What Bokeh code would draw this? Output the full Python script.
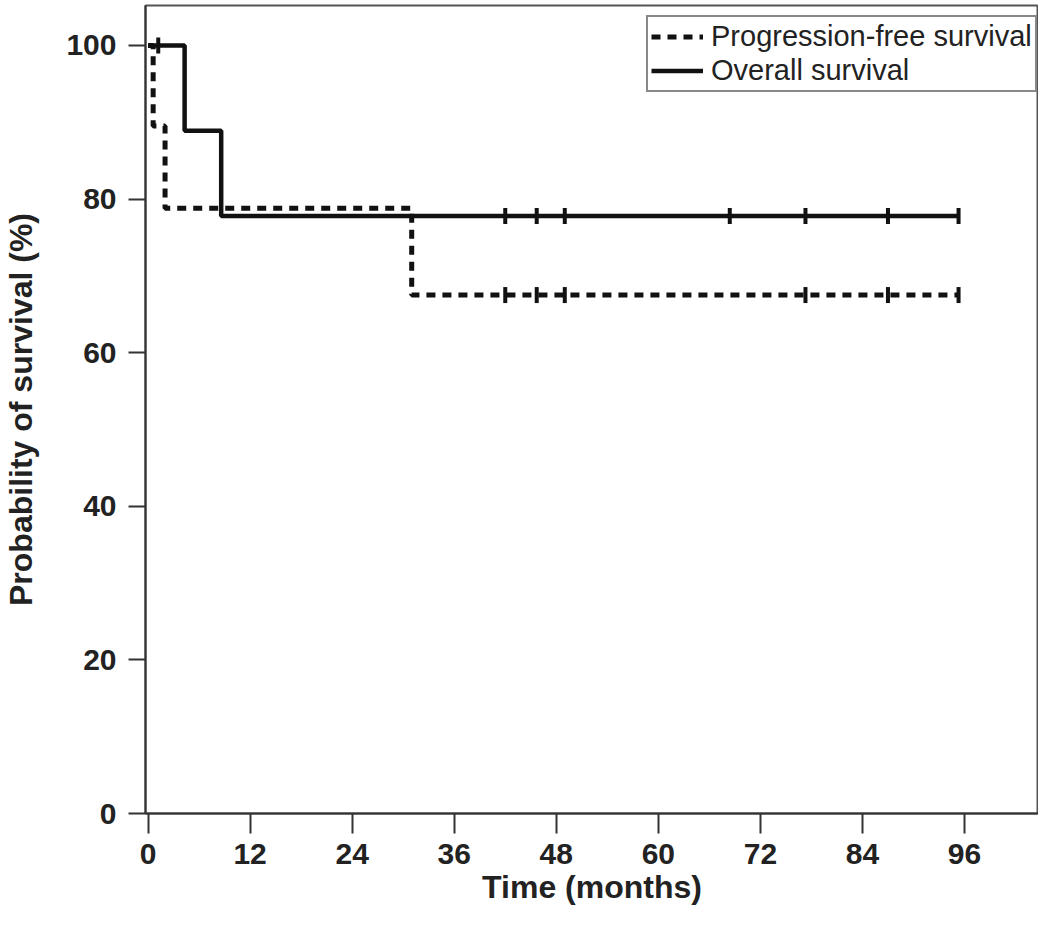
import math
from bokeh.plotting import figure
from bokeh.models import Range1d, FixedTicker, Legend, LegendItem
from bokeh.embed import file_html
from bokeh.resources import INLINE

# Kaplan-Meier step data (months, %)
os_times = [0, 4.3, 8.6, 95.3]
os_surv = [100, 88.9, 77.8, 77.8]
pfs_times = [0, 0.6, 2.0, 31.0, 95.3]
pfs_surv = [100, 89.5, 78.8, 67.5, 67.5]

# censored observations (months)
os_censor = [1.2, 42.0, 45.7, 49.0, 68.4, 77.3, 87.0, 95.3]
pfs_censor = [42.0, 45.7, 49.0, 77.3, 87.0, 95.3]

x_ticks = [0, 12, 24, 36, 48, 60, 72, 84, 96]
y_ticks = [0, 20, 40, 60, 80, 100]

series_names = ["Progression-free survival", "Overall survival"]


def level_at(times, surv, t):
    v = surv[0]
    for ti, si in zip(times, surv):
        if ti <= t:
            v = si
    return v


FONT = "Liberation Sans"
INK = "#111111"

p = figure(frame_width=893, frame_height=808,
           min_border_left=141, min_border_right=0,
           min_border_top=5, min_border_bottom=112,
           x_range=Range1d(-0.3, 104.7), y_range=Range1d(0, 105.2),
           output_backend="svg", toolbar_location=None)

p.grid.visible = False
p.background_fill_color = "white"
p.border_fill_color = "white"
p.outline_line_color = "#555555"
p.outline_line_width = 2

pfs_r = p.step(x=pfs_times, y=pfs_surv, mode="after", line_width=5,
               line_color=INK, line_dash="9 7")
os_r = p.step(x=os_times, y=os_surv, mode="after", line_width=4.5,
              line_color=INK)

p.scatter(x=os_censor, y=[level_at(os_times, os_surv, t) for t in os_censor],
          marker="dash", angle=math.pi / 2, size=16, line_width=4,
          line_color=INK)
p.scatter(x=pfs_censor, y=[level_at(pfs_times, pfs_surv, t) for t in pfs_censor],
          marker="dash", angle=math.pi / 2, size=16, line_width=4,
          line_color=INK)

for ax in (p.xaxis[0], p.yaxis[0]):
    ax.axis_line_width = 2
    ax.axis_line_color = "#333333"
    ax.major_tick_line_width = 2
    ax.major_tick_line_color = "#333333"
    ax.major_tick_in = 0
    ax.minor_tick_line_color = None
    ax.major_label_text_font = FONT
    ax.major_label_text_font_style = "bold"
    ax.major_label_text_font_size = "30px"
    ax.major_label_text_color = "#222222"
    ax.axis_label_text_font = FONT
    ax.axis_label_text_font_style = "bold"
    ax.axis_label_text_font_size = "32px"
    ax.axis_label_text_color = "#222222"

p.xaxis[0].ticker = FixedTicker(ticks=x_ticks)
p.yaxis[0].ticker = FixedTicker(ticks=y_ticks)
p.xaxis[0].major_tick_out = 20
p.yaxis[0].major_tick_out = 17
p.xaxis[0].major_label_standoff = 10
p.yaxis[0].major_label_standoff = 12
p.xaxis[0].axis_label = "Time (months)"
p.yaxis[0].axis_label = "Probability of survival (%)"
p.xaxis[0].axis_label_standoff = 2
p.yaxis[0].axis_label_standoff = 24

legend = Legend(items=[LegendItem(label=series_names[0], renderers=[pfs_r]),
                       LegendItem(label=series_names[1], renderers=[os_r])],
                location=(501, 721), margin=0, padding=3, spacing=1,
                glyph_width=52, glyph_height=33, label_height=33,
                label_standoff=8,
                label_text_font=FONT, label_text_font_size="29px",
                label_text_color="#222222",
                border_line_color=INK, border_line_width=2,
                background_fill_color="white", background_fill_alpha=1)
p.add_layout(legend)

open("out.html", "w").write(file_html(p, INLINE))
